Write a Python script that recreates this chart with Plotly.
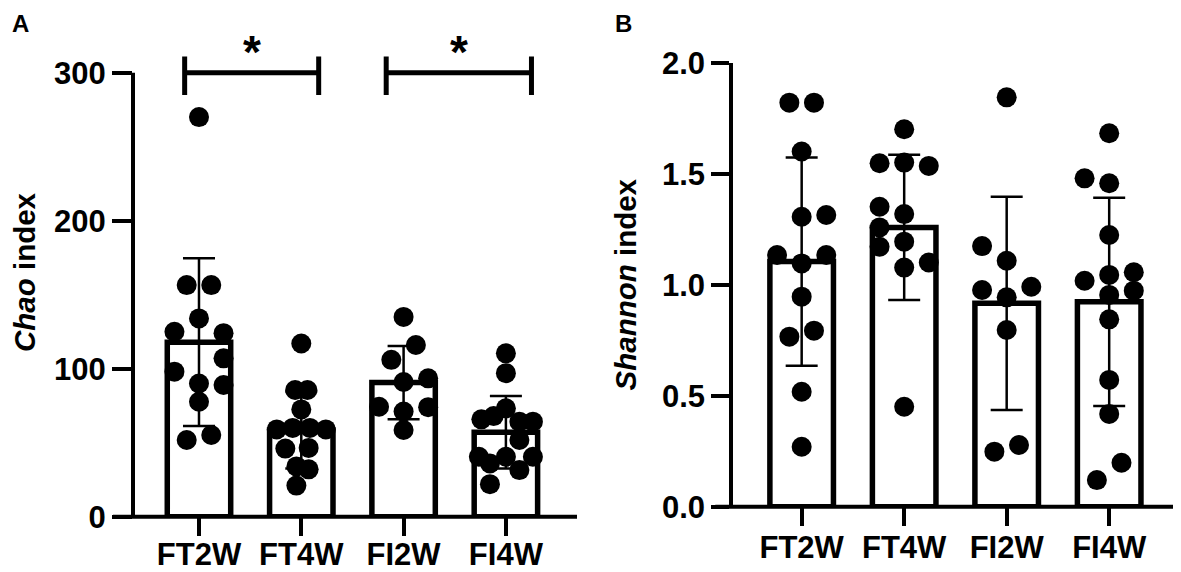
import plotly.graph_objects as go

# groups
categories = ["FT2W", "FT4W", "FI2W", "FI4W"]

# Chao index (panel A): bar = mean, error = SD
chao_mean = [117.9, 58.6, 90.6, 57.0]
chao_sd = [56.7, 26.0, 24.7, 24.5]
chao_ft2w = [270, 156.5, 156.5, 134, 125, 124, 107, 98, 90, 89, 77.7, 51.8, 55.2]
chao_ft4w = [117, 85.6, 85.6, 72.5, 59, 60, 60, 59, 46, 46.5, 34, 32, 21]
chao_fi2w = [135, 116, 106, 93.5, 91, 74.3, 74, 71, 58.6]
chao_fi4w = [110.4, 97, 73.2, 65.8, 68, 64.2, 64.2, 51.8, 40.5, 40.5, 40.5, 36, 31.5, 22]

# Shannon index (panel B)
shannon_mean = [1.104, 1.258, 0.916, 0.923]
shannon_sd = [0.469, 0.327, 0.48, 0.469]
shannon_ft2w = [1.82, 1.82, 1.60, 1.306, 1.314, 1.134, 1.134, 1.096, 0.946, 0.766, 0.793, 0.518, 0.27]
shannon_ft4w = [1.70, 1.547, 1.55, 1.535, 1.351, 1.318, 1.258, 1.171, 1.194, 1.077, 1.10, 0.45]
shannon_fi2w = [1.844, 1.174, 1.108, 0.976, 0.991, 0.943, 0.796, 0.248, 0.278]
shannon_fi4w = [1.682, 1.479, 1.457, 1.224, 1.018, 1.044, 1.056, 0.954, 0.973, 0.844, 0.571, 0.418, 0.198, 0.12]

chao_points = [chao_ft2w, chao_ft4w, chao_fi2w, chao_fi4w]
shannon_points = [shannon_ft2w, shannon_ft4w, shannon_fi2w, shannon_fi4w]

# horizontal scatter columns of the dots (layout only)
chao_cols = [
    [0, -1, 1, 0, -2, 2, 2, -2, 0, 2, 0, -1, 1],
    [0, -0.5, 0.5, 0, -2, -0.7, 0.7, 2, -1.3, 0.6, -0.4, 0.6, -0.4],
    [0, 1, -1, 2, 0, -2, 2, 0, 0],
    [0, 0, 0, -2, -1, 1.1, 2.2, 1.1, -2.2, 0, 2.2, -1.3, 1.1, -1.3],
]
shannon_cols = [
    [-1, 1, 0, 0, 2, -2, 2, 0, 0, -1, 1, 0, 0],
    [0, -2, 0, 2, -2, 0, -2, -2, 0, 0, 2, 0],
    [0, -2, 0, -2, 2, 0, 0, -1, 1],
    [0, -2, 0, 0, -2, 0, 2, 0, 2, 0, 0, 0, 1, -1],
]
COL = 0.12

FONT = "Arial, Liberation Sans, sans-serif"
# page body has an 8px margin, so the figure starts 8px in
OFF = 8
W, H = 1181 - OFF, 572 - OFF


def px_x(p):
    return (p - OFF) / W


def px_y(p):
    return 1 - (p - OFF) / H


fig = go.Figure()


def add_panel(means, sds, points, cols, xa, ya):
    fig.add_trace(go.Bar(
        x=list(range(len(categories))), y=means, width=0.62,
        marker=dict(color="white", line=dict(color="black", width=5.5)),
        error_y=dict(type="data", array=sds, color="black", thickness=2.5, width=16),
        xaxis=xa, yaxis=ya, showlegend=False,
    ))
    for i, (vals, cc) in enumerate(zip(points, cols)):
        fig.add_trace(go.Scatter(
            x=[i + c * COL for c in cc], y=vals, mode="markers",
            marker=dict(color="black", size=20),
            cliponaxis=False, xaxis=xa, yaxis=ya, showlegend=False,
        ))


add_panel(chao_mean, chao_sd, chao_points, chao_cols, "x", "y")
add_panel(shannon_mean, shannon_sd, shannon_points, shannon_cols, "x2", "y2")

axis_common = dict(
    showline=True, linecolor="black", linewidth=4,
    ticks="outside", tickcolor="black", tickwidth=3.5,
    tickfont=dict(family=FONT, size=31, color="black", weight="bold"),
    showgrid=False, zeroline=False, automargin=False,
)
xaxis_common = dict(axis_common, showline=False, tickvals=[0, 1, 2, 3], ticktext=categories,
                    ticklen=18)
title_font = dict(family=FONT, size=29.5, color="black", weight="bold")

fig.update_layout(
    width=W, height=H,
    margin=dict(l=0, r=0, t=0, b=0, autoexpand=False),
    paper_bgcolor="white", plot_bgcolor="white",
    font=dict(family=FONT, color="black"),
    xaxis=dict(xaxis_common, domain=[px_x(133), px_x(577)], range=[-0.645, 3.695],
               ticklabelstandoff=-8, anchor="y"),
    yaxis=dict(axis_common, domain=[px_y(516.7), px_y(28.3)], range=[0, 330], showline=False,
               tickvals=[0, 100, 200, 300], ticklen=20, anchor="x",
               title=dict(text="<i>Chao</i> index", standoff=16, font=title_font)),
    xaxis2=dict(xaxis_common, domain=[px_x(733.3), px_x(1175)], range=[-0.667, 3.642],
                ticklabelstandoff=-5, anchor="y2"),
    yaxis2=dict(axis_common, domain=[px_y(506.7), px_y(62.7)], range=[0, 2.0],
                tickvals=[0, 0.5, 1.0, 1.5, 2.0], tickformat=".1f", ticklen=18, anchor="x2",
                title=dict(text="<i>Shannon</i> index", standoff=18, font=title_font)),
)

# left y axis line only up to 300
fig.add_shape(type="line", xref="x domain", yref="y", x0=0, x1=0, y0=0, y1=300,
              line=dict(color="black", width=4))

# x axis lines reaching out under the y ticks
for xd, yd, reach in (("x domain", "y domain", 20 / 444), ("x2 domain", "y2 domain", 18 / 441.7)):
    fig.add_shape(type="line", xref=xd, yref=yd, x0=-reach, x1=1, y0=0, y1=0,
                  line=dict(color="black", width=4))

# significance brackets
brackets = [dict(x0=-0.14, x1=1.17, y=300), dict(x0=1.83, x1=3.25, y=300)]
for b in brackets:
    fig.add_shape(type="line", xref="x", yref="y", x0=b["x0"], x1=b["x1"], y0=b["y"], y1=b["y"],
                  line=dict(color="black", width=5))
    for xe in (b["x0"], b["x1"]):
        fig.add_shape(type="line", xref="x", yref="y", x0=xe, x1=xe, y0=285, y1=311,
                      line=dict(color="black", width=5))
    fig.add_annotation(x=(b["x0"] + b["x1"]) / 2, y=295, xref="x", yref="y", text="*",
                       showarrow=False, yanchor="bottom",
                       font=dict(family=FONT, size=46, color="black", weight="bold"))

# panel letters
for letter, p in (("A", 20), ("B", 623)):
    fig.add_annotation(x=px_x(p), y=1, xref="paper", yref="paper", text=letter,
                       xanchor="center", yanchor="top", showarrow=False,
                       font=dict(family=FONT, size=24, color="black", weight="bold"))

fig.write_html("out.html")
